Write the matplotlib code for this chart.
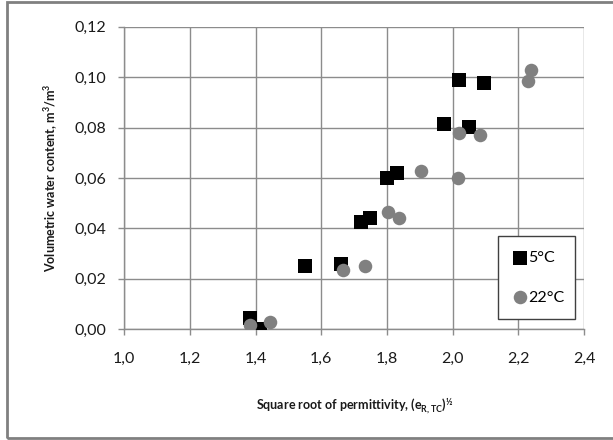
import matplotlib
matplotlib.use("Agg")
import matplotlib.pyplot as plt
from matplotlib.patches import Rectangle
from matplotlib.ticker import FuncFormatter

plt.rcParams['font.family'] = ['Lato', 'DejaVu Sans']
plt.rcParams['mathtext.fontset'] = 'custom'
plt.rcParams['mathtext.rm'] = 'Lato:bold'
plt.rcParams['mathtext.bf'] = 'Lato:bold'

# 5 °C series
x_5c = [1.384, 1.414, 1.550, 1.659, 1.722, 1.748, 1.799, 1.831, 1.974, 2.019, 2.049, 2.095]
y_5c = [0.0046, 0.0000, 0.0252, 0.0258, 0.0427, 0.0440, 0.0599, 0.0621, 0.0815, 0.0990, 0.0802, 0.0975]

# 22 °C series
x_22c = [1.384, 1.445, 1.666, 1.734, 1.802, 1.838, 1.903, 2.017, 2.019, 2.084, 2.228, 2.238]
y_22c = [0.0017, 0.0028, 0.0235, 0.0252, 0.0464, 0.0440, 0.0628, 0.0599, 0.0777, 0.0772, 0.0983, 0.1028]

x_ticks = [1.0, 1.2, 1.4, 1.6, 1.8, 2.0, 2.2, 2.4]
y_ticks = [0.00, 0.02, 0.04, 0.06, 0.08, 0.10, 0.12]

fig = plt.figure(figsize=(6.13, 4.4), dpi=100)
ax = fig.add_axes([124.3 / 613, 1 - 329.3 / 440, (584 - 124.3) / 613, (329.3 - 26.7) / 440])

ax.scatter(x_5c, y_5c, marker='s', s=110, color='black', label='5°C', zorder=3, linewidths=0)
ax.scatter(x_22c, y_22c, marker='o', s=95, color='#808080', label='22°C', zorder=3, linewidths=0)

ax.set_xlim(1.0, 2.4)
ax.set_ylim(0.0, 0.12)
ax.set_xticks(x_ticks)
ax.set_yticks(y_ticks)
ax.xaxis.set_major_formatter(FuncFormatter(lambda v, p: f"{v:.1f}".replace('.', ',')))
ax.yaxis.set_major_formatter(FuncFormatter(lambda v, p: f"{v:.2f}".replace('.', ',')))

ax.grid(True, color='#8c8c8c', linewidth=1.0, zorder=0)
ax.set_axisbelow(True)
for s in ['top', 'right']:
    ax.spines[s].set_visible(False)
for s in ['left', 'bottom']:
    ax.spines[s].set_color('#8c8c8c')
    ax.spines[s].set_linewidth(1.0)

ax.tick_params(axis='both', direction='out', length=4, width=1.0, color='#8c8c8c',
               labelsize=11.5, labelcolor='#1a1a1a')
ax.tick_params(axis='x', pad=12)
ax.tick_params(axis='y', pad=9)

ax.set_xlabel(r"Square root of permittivity, (e$_{\mathrm{R,TC}}$)$^{\mathrm{½}}$",
              fontsize=9, fontweight='bold', labelpad=22, color='#1a1a1a')
ax.set_ylabel(r"Volumetric water content, m$^{3}$/m$^{3}$", fontsize=9, fontweight='bold',
              labelpad=10, color='#1a1a1a')

leg = ax.legend(loc='lower left', bbox_to_anchor=(0.812, 0.034, 0.168, 0.284), mode='expand',
                fontsize=11.5, frameon=True, fancybox=False, labelspacing=1.6,
                handletextpad=0.0, borderpad=0.9, handlelength=1.0, borderaxespad=0)
leg.get_frame().set_edgecolor('#404040')
leg.get_frame().set_linewidth(1.0)
leg.get_frame().set_alpha(1)

border = Rectangle((7 / 613, 2 / 440), 1.0, 436 / 440, transform=fig.transFigure,
                   fill=False, edgecolor='#808080', linewidth=2.0)
fig.patches.append(border)

fig.savefig('out.png', dpi=100)
